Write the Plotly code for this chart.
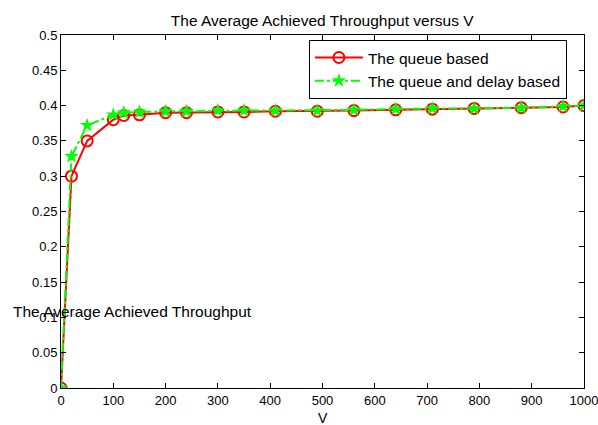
import plotly.graph_objects as go

V = [0, 20, 50, 100, 120, 150, 200, 240, 300, 350, 410, 490, 560, 640, 710, 790, 880, 960, 1000]
queue_based = [0, 0.300, 0.350, 0.380, 0.386, 0.387, 0.390, 0.390, 0.391, 0.391, 0.392,
               0.392, 0.393, 0.394, 0.395, 0.396, 0.397, 0.398, 0.400]
queue_delay_based = [0, 0.328, 0.372, 0.387, 0.390, 0.391, 0.392, 0.392, 0.393, 0.393, 0.393,
                     0.393, 0.394, 0.395, 0.396, 0.396, 0.397, 0.399, 0.400]
x_ticks = [0, 100, 200, 300, 400, 500, 600, 700, 800, 900, 1000]
y_ticks = [0, 0.05, 0.1, 0.15, 0.2, 0.25, 0.3, 0.35, 0.4, 0.45, 0.5]
y_tick_text = ["0", "0.05", "0.1", "0.15", "0.2", "0.25", "0.3", "0.35", "0.4", "0.45", "0.5"]

font_family = "Liberation Sans, Arial, sans-serif"

fig = go.Figure()
fig.add_trace(go.Scatter(
    x=V, y=queue_based, mode="lines+markers", name="The queue based",
    line=dict(color="#ff0000", width=2),
    marker=dict(symbol="circle-open", size=11, color="#ff0000", line=dict(width=2, color="#ff0000")),
))
fig.add_trace(go.Scatter(
    x=V, y=queue_delay_based, mode="lines+markers", name="The queue and delay based",
    line=dict(color="#00ff00", width=2, dash="dashdot"),
    marker=dict(symbol="star", size=11, color="#00ff00"),
))

axis_common = dict(
    showgrid=False, zeroline=False, showline=True, linecolor="black", linewidth=1,
    mirror="ticks", ticks="inside", ticklen=5, tickcolor="black", automargin=False,
    ticklabeloverflow="allow",
    tickfont=dict(size=13, color="black", family=font_family),
)
fig.update_xaxes(range=[0, 1000], tickvals=x_ticks, **axis_common)
fig.update_yaxes(range=[0, 0.5], tickvals=y_ticks, ticktext=y_tick_text, **axis_common)

fig.update_layout(
    width=598, height=425,
    margin=dict(l=61, r=14, t=35, b=37, autoexpand=False),
    plot_bgcolor="white", paper_bgcolor="white",
    font=dict(family=font_family, size=13, color="black"),
    title=dict(text="The Average Achieved Throughput versus V", x=0.5388, xanchor="center",
               y=0.952, yanchor="middle", font=dict(size=15.5, color="black", family=font_family)),
    legend=dict(x=0.474, y=0.986, xanchor="left", yanchor="top",
                bgcolor="white", bordercolor="black", borderwidth=1,
                font=dict(size=15.5, color="black", family=font_family),
                tracegroupgap=0, itemwidth=48),
    showlegend=True,
    annotations=[
        dict(text="The Average Achieved Throughput", xref="paper", yref="paper",
             x=0.136, y=0.218, xanchor="center", yanchor="middle", showarrow=False,
             font=dict(size=15.5, color="black", family=font_family)),
        dict(text="V", xref="paper", yref="paper", x=0.5, y=-0.085,
             xanchor="center", yanchor="middle", showarrow=False,
             font=dict(size=14, color="black", family=font_family)),
    ],
)

fig.write_html("out.html")
